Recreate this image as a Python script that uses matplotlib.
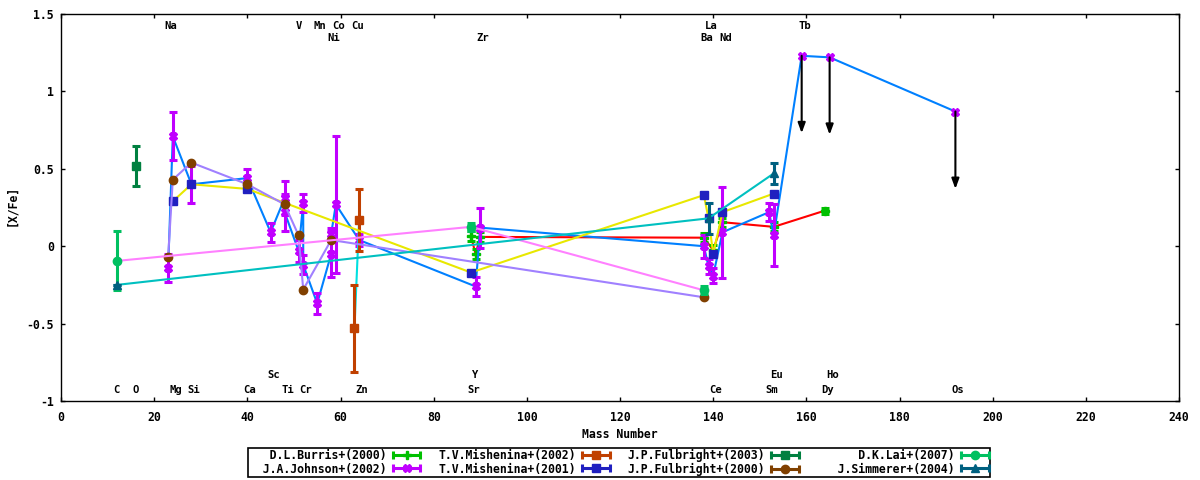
import numpy as np
import matplotlib
matplotlib.use('Agg')
import matplotlib.pyplot as plt
from matplotlib.container import ErrorbarContainer
from matplotlib.legend_handler import HandlerErrorbar

plt.rcParams['font.family'] = ['DejaVu Sans Mono']
plt.rcParams['font.weight'] = 'bold'
plt.rcParams['font.size'] = 8.3

# Data: mass number, [X/Fe], error
burris_x = [88, 89, 90, 138, 140, 142, 153, 164]
burris_y = [0.065, -0.05, 0.06, 0.055, -0.025, 0.155, 0.125, 0.23]
burris_err = [0.03, 0.03, 0.03, 0.03, 0.03, 0.03, 0.03, 0.02]

johnson_x = [23, 24, 28, 40, 45, 48, 48, 51, 52, 52, 55, 58, 58, 59, 64,
             89, 90, 138, 139, 140, 142, 152, 153, 159, 165, 192]
johnson_y = [-0.14, 0.71, 0.40, 0.44, 0.09, 0.31, 0.22, -0.03, 0.28, -0.12,
             -0.37, -0.05, 0.08, 0.27, 0.04, -0.26, 0.12, 0.0, -0.13, -0.19,
             0.09, 0.22, 0.07, 1.23, 1.22, 0.87]
johnson_err = [0.09, 0.155, 0.12, 0.06, 0.06, 0.11, 0.12, 0.07, 0.06, 0.06,
               0.065, 0.15, 0.04, 0.44, 0.04, 0.06, 0.13, 0.075, 0.05, 0.05,
               0.295, 0.06, 0.2, 0, 0, 0]
# last three Johnson values are upper limits
johnson_upper = [False] * 23 + [True, True, True]

mish02_x = [63, 64]
mish02_y = [-0.53, 0.17]
mish02_err = [0.28, 0.2]

mish01_x = [24, 28, 40, 88, 138, 139, 140, 142, 153]
mish01_y = [0.29, 0.40, 0.37, -0.17, 0.33, 0.18, -0.05, 0.22, 0.34]
mish01_err = [0, 0, 0, 0, 0, 0, 0, 0, 0]

fulb03_x = [16]
fulb03_y = [0.52]
fulb03_err = [0.13]

fulb00_x = [23, 24, 28, 40, 48, 51, 52, 58, 138]
fulb00_y = [-0.07, 0.43, 0.54, 0.40, 0.27, 0.07, -0.28, 0.04, -0.33]
fulb00_err = [0, 0, 0, 0, 0, 0, 0, 0, 0]

lai_x = [12, 88, 138]
lai_y = [-0.095, 0.125, -0.285]
lai_err = [0.19, 0.025, 0.025]

simm_x = [12, 139, 153]
simm_y = [-0.25, 0.18, 0.47]
simm_err = [0.0, 0.1, 0.065]

# element labels
top1_names = ['Na', 'V', 'Mn', 'Co', 'Cu', 'La', 'Tb']
top1_mass = [23, 51, 55, 59, 63, 139, 159]
top2_names = ['Ni', 'Zr', 'Ba', 'Nd']
top2_mass = [58, 90, 138, 142]
bot1_names = ['Sc', 'Y', 'Eu', 'Ho']
bot1_mass = [45, 89, 153, 165]
bot2_names = ['C', 'O', 'Mg', 'Si', 'Ca', 'Ti', 'Cr', 'Zn', 'Sr', 'Ce', 'Sm', 'Dy', 'Os']
bot2_mass = [12, 16, 24, 28, 40, 48, 52, 64, 88, 140, 152, 164, 192]

series = [
    ('D.L.Burris+(2000)', burris_x, burris_y, burris_err, 'P', '#00c000', '#ff0000'),
    ('J.A.Johnson+(2002)', johnson_x, johnson_y, johnson_err, 'X', '#c000ff', '#0080ff'),
    ('T.V.Mishenina+(2002)', mish02_x, mish02_y, mish02_err, 's', '#c04000', '#00e0e0'),
    ('T.V.Mishenina+(2001)', mish01_x, mish01_y, mish01_err, 's', '#2020c0', '#e8e800'),
    ('J.P.Fulbright+(2003)', fulb03_x, fulb03_y, fulb03_err, 's', '#008040', '#ffc020'),
    ('J.P.Fulbright+(2000)', fulb00_x, fulb00_y, fulb00_err, 'o', '#804000', '#a080ff'),
    ('D.K.Lai+(2007)', lai_x, lai_y, lai_err, 'o', '#00c060', '#ff80ff'),
    ('J.Simmerer+(2004)', simm_x, simm_y, simm_err, '^', '#006080', '#00c0c0'),
]

fig = plt.figure(figsize=(12, 4.8), dpi=100)
ax = fig.add_axes([61 / 1200, 1 - 401 / 480, 1118 / 1200, 387 / 480])

eb_style = dict(elinewidth=2.2, capsize=3, capthick=2.2, markersize=6, linestyle='none')
handles = []
z = 2
for label, xs, ys, errs, mk, col, lcol in series:
    xs = np.array(xs, dtype=float)
    ys = np.array(ys, dtype=float)
    errs = np.array(errs, dtype=float)
    ax.plot(xs, ys, color=lcol, lw=1.5, zorder=z)
    z += 1
    if label.startswith('J.A.Johnson'):
        up = np.array(johnson_upper)
        ax.errorbar(xs[~up], ys[~up], yerr=errs[~up], fmt=mk, color=col, zorder=z, **eb_style)
        ax.plot(xs[up], ys[up], mk, color=col, markersize=6, zorder=z)
        for xu, yu in zip(xs[up], ys[up]):
            ax.annotate('', xy=(xu, yu - 0.5), xytext=(xu, yu),
                        arrowprops=dict(arrowstyle='-|>,head_length=0.6,head_width=0.22',
                                        color='black', lw=1.5, shrinkA=0, shrinkB=0,
                                        mutation_scale=10), zorder=30)
    else:
        ax.errorbar(xs, ys, yerr=errs, fmt=mk, color=col, zorder=z, **eb_style)
    z += 1
    # legend sample: horizontal errorbar
    h = ax.errorbar([np.nan], [np.nan], xerr=[1], fmt=mk, color=col, label=f'{label:>20}', **eb_style)
    handles.append(h)

for names, masses, yy in [(top1_names, top1_mass, 1.425), (top2_names, top2_mass, 1.342),
                          (bot1_names, bot1_mass, -0.832), (bot2_names, bot2_mass, -0.929)]:
    for n, m in zip(names, masses):
        ax.annotate(n, (m, yy), xytext=(2 if len(n) == 2 else 0, 0),
                    textcoords='offset points', ha='center', va='center', fontsize=7.6)

ax.set_xlim(0, 240)
ax.set_ylim(-1, 1.5)
ax.set_xticks(np.arange(0, 241, 20))
ax.set_yticks([-1, -0.5, 0, 0.5, 1, 1.5])
ax.set_yticklabels(['-1', '-0.5', '0', '0.5', '1', '1.5'])
ax.tick_params(direction='in', length=3, width=1, top=True, right=True)
ax.tick_params(axis='x', pad=7)
ax.tick_params(axis='y', pad=5)
for s in ax.spines.values():
    s.set_linewidth(1.0)

fig.text(620 / 1200, 1 - 434 / 480, 'Mass Number', ha='center', va='center')
fig.text(12 / 1200, 1 - 205 / 480, '[X/Fe]', rotation=90, ha='center', va='center')

leg = fig.legend(handles=handles, loc='center', bbox_to_anchor=(619 / 1200, 1 - 462.5 / 480),
                 ncol=4, markerfirst=False, borderaxespad=0, borderpad=0.12,
                 labelspacing=0.0, handletextpad=0.5, handlelength=2.5, columnspacing=1.5,
                 fancybox=False, framealpha=1, edgecolor='black',
                 handler_map={ErrorbarContainer: HandlerErrorbar(xerr_size=1.2)})
leg.get_frame().set_linewidth(1.2)

fig.savefig('out.png', dpi=100)
